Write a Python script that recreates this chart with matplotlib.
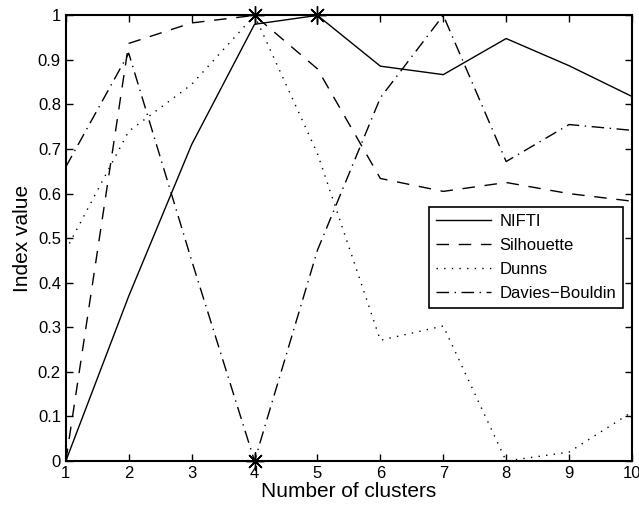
import numpy as np
import matplotlib
matplotlib.use('Agg')
import matplotlib.pyplot as plt

plt.rcParams['font.family'] = ['Liberation Sans', 'DejaVu Sans']

clusters = [1, 2, 3, 4, 5, 6, 7, 8, 9, 10]
nifti = [0.0, 0.37, 0.71, 0.98, 1.0, 0.886, 0.867, 0.948, 0.887, 0.818]
silhouette = [0.0, 0.937, 0.983, 1.0, 0.88, 0.634, 0.605, 0.625, 0.6, 0.583]
dunns = [0.473, 0.74, 0.845, 1.0, 0.69, 0.271, 0.303, 0.0, 0.02, 0.11]
davies = [0.66, 0.915, 0.45, 0.0, 0.473, 0.815, 1.0, 0.672, 0.755, 0.742]

# optimum points marked with stars
star_x = [4, 5, 4]
star_y = [1.0, 1.0, 0.0]

fig = plt.figure(figsize=(6.39, 5.07), dpi=100)
ax = fig.add_axes([0.103, 0.0907, 0.886, 0.879])

ax.plot(clusters, nifti, color='k', lw=1.0, ls='-', label='NIFTI')
ax.plot(clusters, silhouette, color='k', lw=1.0, ls=(0, (9, 7)), label='Silhouette')
ax.plot(clusters, dunns, color='k', lw=1.0, ls=(0, (1, 4.5)), label='Dunns')
ax.plot(clusters, davies, color='k', lw=1.0, ls=(0, (9, 4, 1, 4)), label='Davies\u2212Bouldin')
ax.plot(star_x, star_y, ls='none', marker=(8, 2, 0), ms=13, mec='k', mew=1.0,
        clip_on=False)

ax.set_xlim(1, 10)
ax.set_ylim(0, 1)
ax.set_xticks(range(1, 11))
ax.set_yticks(np.arange(0, 1.01, 0.1))
ax.set_yticklabels(['0', '0.1', '0.2', '0.3', '0.4', '0.5', '0.6', '0.7', '0.8', '0.9', '1'])
ax.tick_params(direction='in', top=True, right=True, length=5, width=1, labelsize=12)
for s in ax.spines.values():
    s.set_linewidth(1.5)

ax.set_xlabel('Number of clusters', fontsize=15, labelpad=1)
ax.set_ylabel('Index value', fontsize=15, labelpad=4)

leg = ax.legend(loc='upper right', bbox_to_anchor=(0.984, 0.57), fontsize=12,
                frameon=True, fancybox=False, framealpha=1, borderaxespad=0,
                handlelength=3.3, handletextpad=0.5, labelspacing=0.55, borderpad=0.4)
leg.get_frame().set_edgecolor('k')
leg.get_frame().set_linewidth(1.2)

fig.savefig('out.png', dpi=100)
